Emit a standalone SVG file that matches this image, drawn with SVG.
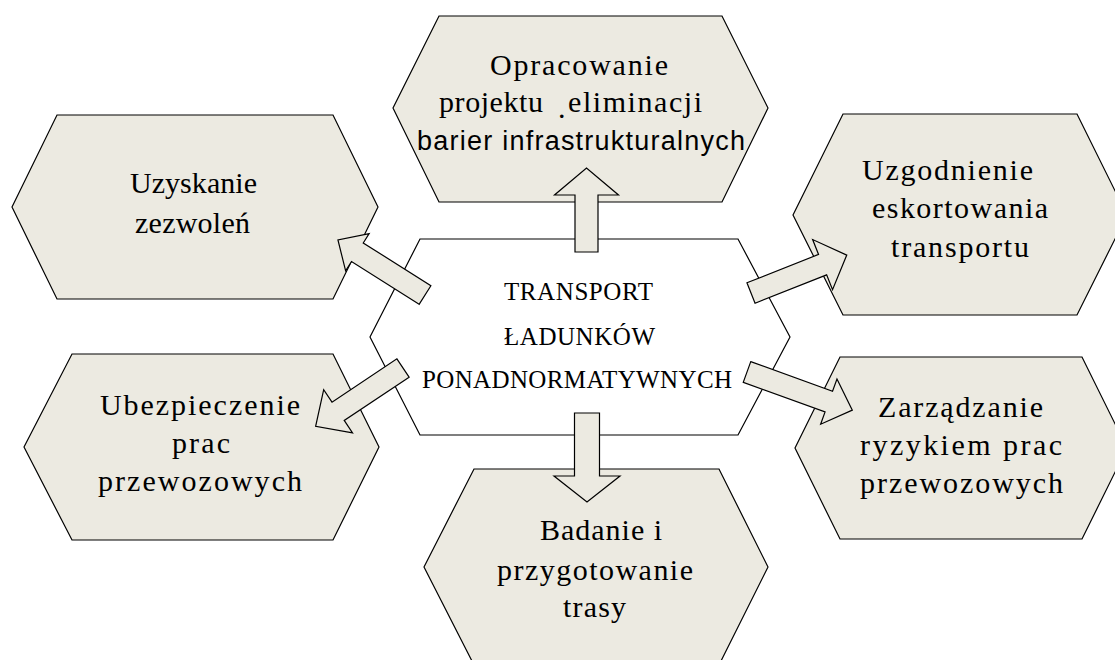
<svg xmlns="http://www.w3.org/2000/svg" width="1115" height="660" viewBox="0 0 1115 660">
<style>
.hex{fill:#ECEAE1;stroke:#000;stroke-width:1.2}
.hexc{fill:#fff;stroke:#000;stroke-width:1.2}
.arr{fill:#ECEAE1;stroke:#000;stroke-width:1.2;stroke-linejoin:miter}
.t{font-family:"Liberation Serif","Times New Roman",serif;font-size:30px;fill:#000}
.tc{font-family:"Liberation Serif","Times New Roman",serif;font-size:25px;fill:#000}
.ts{font-family:"Liberation Sans",Arial,sans-serif;font-size:27px;fill:#000}
</style>
<rect width="1115" height="660" fill="#fff"/>
<g id="node-top">
<polygon class="hex" points="439,16 722,16 768,108 722,202 439,202 393,108"/>
<text class="t" x="490" y="75" textLength="178" lengthAdjust="spacing">Opracowanie</text>
<text class="t" x="439" y="112" textLength="104" lengthAdjust="spacing">projektu</text>
<text class="t" x="558" y="118" font-size="10">.</text>
<text class="t" x="568" y="112" textLength="134" lengthAdjust="spacing">eliminacji</text>
<text class="ts" x="417" y="150" textLength="328" lengthAdjust="spacing">barier infrastrukturalnych</text>
</g>
<g id="node-left-top">
<polygon class="hex" points="57,115 333,115 378,207 333,299 57,299 12,207"/>
<text class="t" x="130" y="193" textLength="127" lengthAdjust="spacing">Uzyskanie</text>
<text class="t" x="135" y="233" textLength="115" lengthAdjust="spacing">zezwoleń</text>
</g>
<g id="node-right-top">
<polygon class="hex" points="843,114 1077,114 1127,215 1077,315 843,315 793,215"/>
<text class="t" x="862" y="180" textLength="171" lengthAdjust="spacing">Uzgodnienie</text>
<text class="t" x="872" y="218" textLength="176" lengthAdjust="spacing">eskortowania</text>
<text class="t" x="891" y="257" textLength="138" lengthAdjust="spacing">transportu</text>
</g>
<g id="node-left-bottom">
<polygon class="hex" points="72,354 333,354 379,447 333,540 72,540 24,447"/>
<text class="t" x="100" y="415" textLength="200" lengthAdjust="spacing">Ubezpieczenie</text>
<text class="t" x="172" y="453" textLength="58" lengthAdjust="spacing">prac</text>
<text class="t" x="98" y="491" textLength="204" lengthAdjust="spacing">przewozowych</text>
</g>
<g id="node-right-bottom">
<polygon class="hex" points="840,357 1082,357 1127,448 1082,539 840,539 795,448"/>
<text class="t" x="878" y="417" textLength="165" lengthAdjust="spacing">Zarządzanie</text>
<text class="t" x="860" y="455" textLength="202" lengthAdjust="spacing">ryzykiem prac</text>
<text class="t" x="860" y="493" textLength="203" lengthAdjust="spacing">przewozowych</text>
</g>
<g id="node-bottom">
<polygon class="hex" points="474,469 719,469 768,567 719,665 474,665 424,567"/>
<text class="t" x="540" y="540" textLength="122" lengthAdjust="spacing">Badanie i</text>
<text class="t" x="497" y="580" textLength="196" lengthAdjust="spacing">przygotowanie</text>
<text class="t" x="563" y="617" textLength="63" lengthAdjust="spacing">trasy</text>
</g>
<g id="node-center">
<polygon class="hexc" points="420,239 738,239 790,337 738,435 420,435 370,337"/>
<text class="tc" x="504" y="300" textLength="149" lengthAdjust="spacing">TRANSPORT</text>
<text class="tc" x="504" y="345" textLength="151" lengthAdjust="spacing">ŁADUNKÓW</text>
<text class="tc" x="422" y="388" textLength="310" lengthAdjust="spacing">PONADNORMATYWNYCH</text>
</g>
<g id="connectors">
<polygon class="arr" transform="translate(586.5,252) rotate(-90)" points="0,-11.5 57,-11.5 57,-32 84,0 57,32 57,11.5 0,11.5"/>
<polygon class="arr" transform="translate(587,413) rotate(90)" points="0,-12.5 63,-12.5 63,-33 89,0 63,33 63,12.5 0,12.5"/>
<polygon class="arr" transform="translate(425,295) rotate(212.3)" points="0,-11 80,-11 80,-22 103,0 80,22 80,11 0,11"/>
<polygon class="arr" transform="translate(751,293) rotate(-21.6)" points="0,-11 77,-11 77,-27 103,0 77,27 77,11 0,11"/>
<polygon class="arr" transform="translate(403,368) rotate(146.3)" points="0,-11 78,-11 78,-26 105,0 78,26 78,11 0,11"/>
<polygon class="arr" transform="translate(747,372) rotate(19.9)" points="0,-11 87,-11 87,-24 112,0 87,24 87,11 0,11"/>
</g>
</svg>
